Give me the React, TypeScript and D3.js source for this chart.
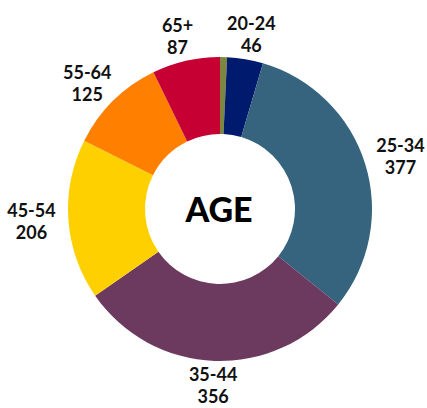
import React from 'react';
import * as d3 from 'd3';

// age groups, clockwise from 12 o'clock
const groups = ['<20', '20-24', '25-34', '35-44', '45-54', '55-64', '65+'];
const counts = [9, 46, 377, 356, 206, 125, 87];
const showLabel = [false, true, true, true, true, true, true];
const colors = ['#7d873f', '#001a6e', '#36647f', '#6d3a5f', '#ffd000', '#ff7f00', '#c60033'];

const App = () => {
  const width = 427;
  const height = 408;
  const cx = 220;
  const cy = 209;
  const outer = 152;
  const inner = 75;

  const data = groups.map((g, i) => ({ group: g, count: counts[i], color: colors[i], label: showLabel[i] }));

  const pie = d3.pie<any>()
    .sort(null)
    .value(d => d.count);
  const arcs = pie(data);

  const arc = d3.arc<any>()
    .outerRadius(outer)
    .innerRadius(inner);

  const font = 'Lato, "DejaVu Sans", sans-serif';

  return (
    <svg width={width} height={height} style={{ position: 'absolute', left: 0, top: 0 }}>
      <g transform={`translate(${cx},${cy})`}>
        {arcs.map((d, i) => (
          <path key={i} d={arc(d) as string} fill={d.data.color} />
        ))}
        {arcs.filter(d => d.data.label).map((d, i) => {
          // labels sit on a slightly flattened ring outside the donut
          const a = (d.startAngle + d.endAngle) / 2;
          const x = Math.sin(a) * 189;
          const y = -Math.cos(a) * 177;
          return (
            <text key={i} x={x} y={y} textAnchor="middle" fontFamily={font} fontWeight={700} fontSize={18} fill="#111">
              <tspan x={x} dy="-0.25em">{d.data.group}</tspan>
              <tspan x={x} dy="1.22em">{d.data.count}</tspan>
            </text>
          );
        })}
        <text x={-1} y={4} textAnchor="middle" dominantBaseline="middle" fontFamily={font} fontWeight={900} fontSize={34} fill="#000">
          AGE
        </text>
      </g>
    </svg>
  );
};

export default App;
